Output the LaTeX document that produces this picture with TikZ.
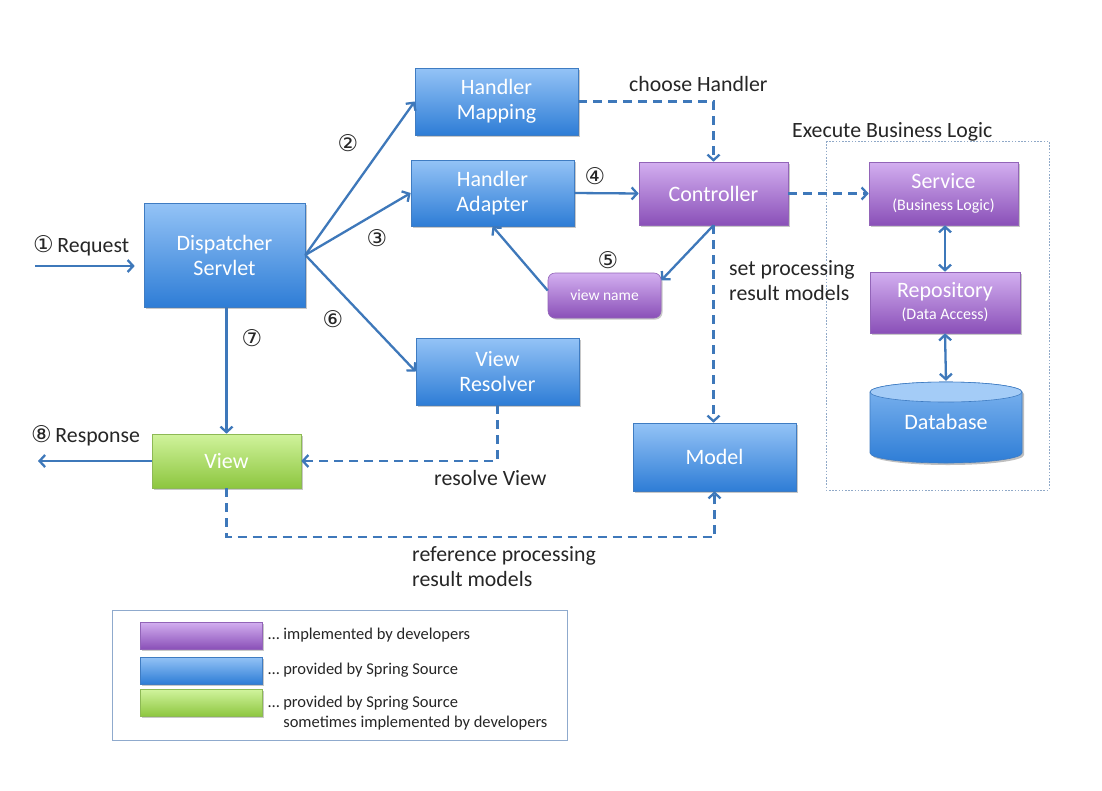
\documentclass[tikz,border=0pt]{standalone}
\usepackage{fontspec}
\setmainfont{Carlito}
\newfontfamily\symf{DejaVu Sans}
\usetikzlibrary{arrows.meta,shadows}
\definecolor{arr}{HTML}{3E78BA}
\definecolor{btop}{HTML}{94C3F6}
\definecolor{bbot}{HTML}{2E7DD6}
\definecolor{bbord}{HTML}{3F7CC2}
\definecolor{ptop}{HTML}{D3AFF0}
\definecolor{pbot}{HTML}{8A50B8}
\definecolor{pbord}{HTML}{9264B8}
\definecolor{gtop}{HTML}{D0F39C}
\definecolor{gbot}{HTML}{8DC63F}
\definecolor{gbord}{HTML}{8DB955}
\definecolor{txt}{HTML}{262626}
\definecolor{legbord}{HTML}{8FAACD}
\definecolor{dotbord}{HTML}{90A9C8}
\begin{document}
\begin{tikzpicture}[x=1pt,y=-1pt,
  shad/.style={drop shadow={shadow xshift=1.5pt,shadow yshift=-1.5pt,opacity=0.3,fill=black!70}},
  bluebox/.style={rectangle,draw=bbord,line width=0.6pt,top color=btop,bottom color=bbot,text=white,
     font=\fontsize{22}{25}\selectfont,align=center,inner sep=2pt,shad},
  purplebox/.style={bluebox,draw=pbord,top color=ptop,bottom color=pbot},
  greenbox/.style={bluebox,draw=gbord,top color=gtop,bottom color=gbot},
  conn/.style={draw=arr,line width=2.3pt,-{Straight Barb[length=5.5pt,width=12pt]}},
  dbl/.style={draw=arr,line width=2.3pt,{Straight Barb[length=5.5pt,width=12pt]}-{Straight Barb[length=5.5pt,width=12pt]}},
  dconn/.style={conn,dash pattern=on 9pt off 6pt},
  lbl/.style={text=txt,font=\fontsize{21.8}{25}\selectfont,inner sep=0pt,align=left},
  num/.style={text=txt,font=\symf\fontsize{23}{26}\selectfont,inner sep=0pt},
  legtxt/.style={text=txt,font=\fontsize{16.5}{20}\selectfont,inner sep=0pt,align=left}]
\useasboundingbox[fill=white] (0,0) rectangle (1102,790);

% business logic area
\draw[dotbord,line width=0.9pt,dash pattern=on 1.6pt off 1.6pt] (826,141) rectangle (1049,490);

% nodes
\node[bluebox,minimum width=163pt,minimum height=67pt] (hm) at (496.5,101.5) {Handler\\Mapping};
\node[bluebox,minimum width=163pt,minimum height=66pt] (ha) at (492.5,193) {Handler\\Adapter};
\node[bluebox,minimum width=161pt,minimum height=104pt] (ds) at (224.5,255) {Dispatcher\\Servlet};
\node[purplebox,minimum width=149pt,minimum height=63pt] (ctrl) at (713.5,193.5) {Controller};
\node[purplebox,rounded corners=7pt,minimum width=113pt,minimum height=45pt,font=\fontsize{15.5}{18}\selectfont] (vn) at (604.5,295.5) {view name};
\node[bluebox,minimum width=163pt,minimum height=67pt] (vr) at (497.5,371.5) {View\\Resolver};
\node[greenbox,minimum width=149pt,minimum height=54pt] (view) at (226.5,461) {View};
\node[bluebox,minimum width=163pt,minimum height=68pt] (model) at (714.5,457) {Model};
\node[purplebox,minimum width=149pt,minimum height=63pt] (svc) at (943.5,193.5) {Service\\[-3pt]{\fontsize{16}{18}\selectfont (Business Logic)}};
\node[purplebox,minimum width=150pt,minimum height=61pt] (repo) at (945,302.5) {Repository\\[-3pt]{\fontsize{16}{18}\selectfont (Data Access)}};

% database cylinder
\fill[black,opacity=0.25] (872,394) -- (872,455) arc[start angle=180,end angle=360,x radius=76pt,y radius=10pt] -- (1024,394) arc[start angle=0,end angle=180,x radius=76pt,y radius=10pt] -- cycle;
\shade[top color=btop!80!bbot,bottom color=bbot,draw=bbord,line width=0.6pt] (870,392) -- (870,453) arc[start angle=180,end angle=360,x radius=76pt,y radius=10pt] -- (1022,392) arc[start angle=0,end angle=180,x radius=76pt,y radius=10pt] -- cycle;
\filldraw[fill=btop!85!white,draw=bbord,line width=0.6pt] (946,392) ellipse[x radius=76pt,y radius=10pt];
\node[minimum width=152pt,minimum height=82pt,text=white,font=\fontsize{22}{25}\selectfont,inner sep=0pt] (db) at (946,422) {\raisebox{-5pt}{Database}};

% connectors
\draw[conn] (ds.east) -- (hm.west);
\draw[conn] (ds.east) -- (ha.west);
\draw[conn] (ds.east) -- (vr.west);
\draw[conn] (view.north |- ds.south) -- (view.north);
\draw[conn] (ha.east) -- (ctrl.west);
\draw[conn] (ctrl.south) -- (vn.15);
\draw[conn] (vn.175) -- (ha.south);
\draw[dconn] (hm.east) -| (ctrl.north);
\draw[dconn] (ctrl.east) -- (svc.west);
\draw[dconn] (ctrl.south) -- (ctrl.south |- model.north);
\draw[dconn] (vr.south) |- (view.east);
\draw[dconn] (view.south) -- ++(0,49) -| (model.south);
\draw[dbl] (repo.north |- svc.south) -- (repo.north);
\draw[dbl] (repo.south) -- (db.north);
\coordinate (reqstart) at (35,266);
\draw[conn,shorten >=9pt] (reqstart) -- (reqstart -| ds.west);
\coordinate (resend) at (38,461);
\draw[conn] (view.west) -- (resend);

% labels
\node[anchor=west,text=txt,font=\fontsize{21.8}{25}\selectfont,inner sep=0pt] (lreq) at (33,246) {{\symf\fontsize{23}{26}\selectfont ①}\,Request};
\node[anchor=west,text=txt,font=\fontsize{21.8}{25}\selectfont,inner sep=0pt] (lres) at (31,436) {{\symf\fontsize{23}{26}\selectfont ⑧}\,Response};
\node[num] (n2) at (348,143) {②};
\node[num] (n3) at (377,238) {③};
\node[num] (n4) at (595,176) {④};
\node[num] (n5) at (608,260) {⑤};
\node[num] (n6) at (333,319) {⑥};
\node[num] (n7) at (252,338) {⑦};
\node[lbl,anchor=west] (lch) at (629,84) {choose Handler};
\node[lbl,anchor=west] (lex) at (792,132) {Execute Business Logic};
\node[lbl,anchor=west] (lset) at (729,281) {set processing\\result models};
\node[lbl,anchor=west] (lrv) at (434,478) {resolve View};
\node[lbl,anchor=west] (lref) at (412,567) {reference processing\\result models};

% legend
\node[draw=legbord,line width=0.8pt,minimum width=455pt,minimum height=130pt,inner sep=0pt] (leg) at (339.5,675) {};
\node[purplebox,minimum width=122pt,minimum height=27pt] (sw1) at (201,635.5) {};
\node[bluebox,minimum width=122pt,minimum height=27pt] (sw2) at (201,670.5) {};
\node[greenbox,minimum width=122pt,minimum height=27pt] (sw3) at (201,703) {};
\node[legtxt,anchor=west] (lg1) at (268,635) {… implemented by developers};
\node[legtxt,anchor=west] (lg2) at (268,670) {… provided by Spring Source};
\node[legtxt,anchor=west] (lg3) at (268,713) {… provided by Spring Source\\\hphantom{… }sometimes implemented by developers};
\end{tikzpicture}
\end{document}
